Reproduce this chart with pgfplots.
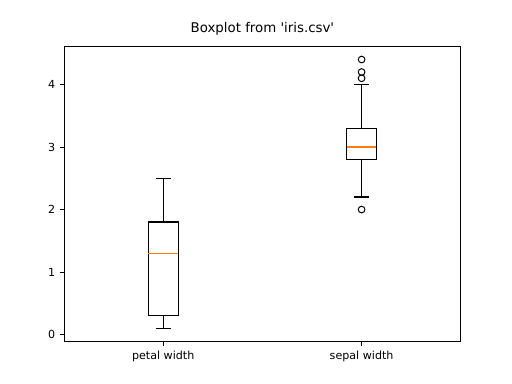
\documentclass[border=0pt]{standalone}
\usepackage{fontspec}
\setmainfont{DejaVu Sans}
\usepackage{pgfplots}
\pgfplotsset{compat=1.18}
\usepgfplotslibrary{statistics}
\definecolor{mplorange}{HTML}{FF7F0E}
\begin{document}
\begin{tikzpicture}
\path (0,0) rectangle (460.8pt,345.6pt);
\begin{axis}[
  at={(57.6pt,38.016pt)}, anchor=south west,
  scale only axis, width=357.12pt, height=266.112pt,
  xmin=0.5, xmax=2.5, ymin=-0.115, ymax=4.615,
  xtick={1,2}, xticklabels={petal width, sepal width},
  ytick={0,1,2,3,4},
  tick align=outside, major tick length=3.5pt,
  tick style={line width=0.8pt, black},
  axis line style={line width=0.8pt},
  x tick label style={font=\fontsize{10}{12}\selectfont, yshift=-1pt},
  y tick label style={font=\fontsize{10}{12}\selectfont, xshift=-1pt},
  /pgf/number format/assume math mode=true,
  xtick pos=bottom, ytick pos=left,
  title={Boxplot from \textquotesingle iris.csv\textquotesingle},
  title style={font=\fontsize{12}{14}\selectfont, at={(0.5,1)}, anchor=base, yshift=6.6pt},
  boxplot/draw direction=y,
  boxplot/every median/.style={draw=mplorange, line width=1pt},
]
\addplot[draw=black, line width=1pt,
  boxplot prepared={lower whisker=0.1, lower quartile=0.3, median=1.3,
    upper quartile=1.8, upper whisker=2.5, draw position=1,
    box extend=0.15, whisker extend=0.075}] coordinates {};
\addplot[draw=black, line width=1pt,
  boxplot prepared={lower whisker=2.2, lower quartile=2.8, median=3.0,
    upper quartile=3.3, upper whisker=4.0, draw position=2,
    box extend=0.15, whisker extend=0.075}] coordinates {};
% outliers (fliers) of sepal width
\addplot[only marks, mark=o, mark size=3pt, mark options={draw=black, line width=0.9pt}]
  coordinates {(2,2.0) (2,4.1) (2,4.2) (2,4.4)};
\end{axis}
\end{tikzpicture}
\end{document}
